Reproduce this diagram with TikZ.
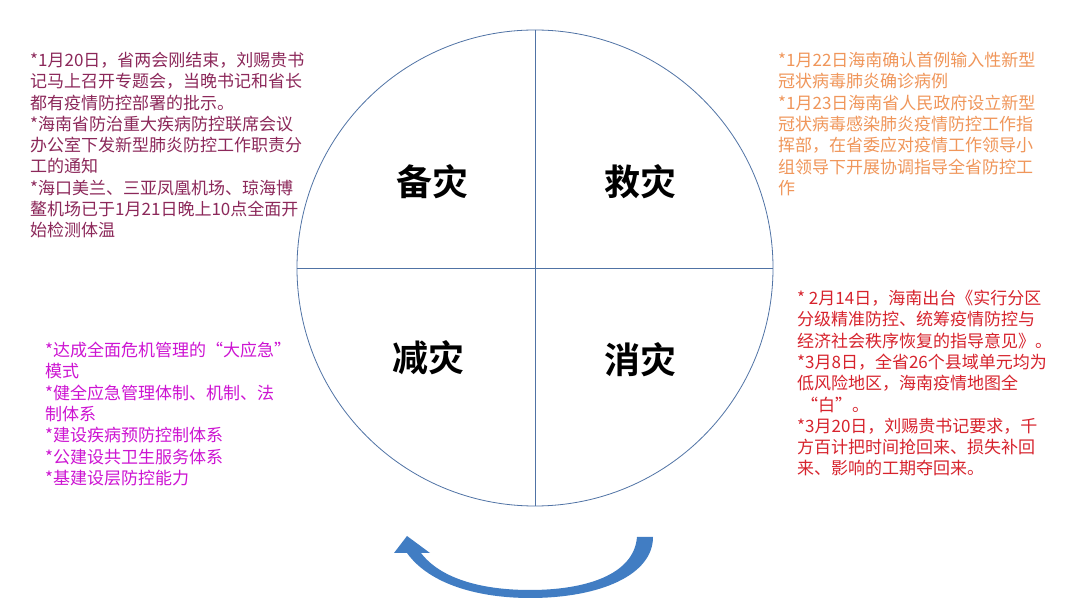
\documentclass[tikz,border=0pt]{standalone}
\usepackage{fontspec}
\setmainfont{Noto Sans CJK SC}
\newfontfamily\cjkb{Noto Sans CJK SC Bold}
\begin{document}
\begin{tikzpicture}[x=1pt,y=-1pt,
  blk/.style={anchor=north west,inner sep=0pt,align=left,font=\fontsize{17}{21.3}\selectfont},
  big/.style={font=\cjkb\fontsize{36}{40}\selectfont,inner sep=0pt}]
\definecolor{cmaroon}{RGB}{140,40,90}
\definecolor{corange}{RGB}{240,150,90}
\definecolor{cred}{RGB}{215,35,45}
\definecolor{cpurple}{RGB}{205,20,210}
\definecolor{cline}{RGB}{80,115,165}
\definecolor{carrow}{RGB}{65,125,195}
\useasboundingbox[fill=white] (0,0) rectangle (1080,609);
\node[draw=cline,line width=0.8pt,circle,minimum size=476pt,inner sep=0pt] (c) at (535,268) {};
\draw[cline,line width=0.8pt] (c.north) -- (c.south);
\draw[cline,line width=0.8pt] (c.west) -- (c.east);
\node[big] (b1) at (432,182) {备灾};
\node[big] (b2) at (640,182) {救灾};
\node[big] (b3) at (428,358) {减灾};
\node[big] (b4) at (640,360) {消灾};
\node[blk,text=cmaroon] (t1) at (30,52) {*1月20日，省两会刚结束，刘赐贵书\\记马上召开专题会，当晚书记和省长\\都有疫情防控部署的批示。\\*海南省防治重大疾病防控联席会议\\办公室下发新型肺炎防控工作职责分\\工的通知\\*海口美兰、三亚凤凰机场、琼海博\\鳌机场已于1月21日晚上10点全面开\\始检测体温};
\node[blk,text=corange] (t2) at (778,52) {*1月22日海南确认首例输入性新型\\冠状病毒肺炎确诊病例\\*1月23日海南省人民政府设立新型\\冠状病毒感染肺炎疫情防控工作指\\挥部，在省委应对疫情工作领导小\\组领导下开展协调指导全省防控工\\作};
\node[blk,text=cred] (t3) at (797,290) {* 2月14日，海南出台《实行分区\\分级精准防控、统筹疫情防控与\\经济社会秩序恢复的指导意见》。\\*3月8日，全省26个县域单元均为\\低风险地区，海南疫情地图全\\\ “白”。\\*3月20日，刘赐贵书记要求，千\\方百计把时间抢回来、损失补回\\来、影响的工期夺回来。};
\node[blk,text=cpurple] (t4) at (45,342) {*达成全面危机管理的“大应急”\\模式\\*健全应急管理体制、机制、法\\制体系\\*建设疾病预防控制体系\\*公建设共卫生服务体系\\*基建设层防控能力};
\fill[carrow] (653,537) -- (637,537)
  .. controls (634,575) and (585,590) .. (530,590)
  .. controls (480,590) and (440,578) .. (421,553)
  -- (430,553) -- (407,536) -- (394,553) -- (407,553)
  .. controls (430,585) and (480,598) .. (530,598)
  .. controls (600,598) and (653,575) .. cycle;
\end{tikzpicture}
\end{document}
